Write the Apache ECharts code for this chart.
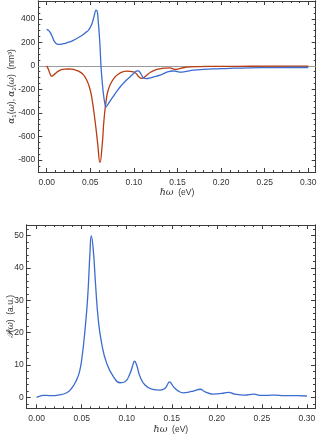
<!DOCTYPE html>
<html><head><meta charset="utf-8">
<script src="https://cdn.jsdelivr.net/npm/echarts@6/dist/echarts.min.js"></script>
<style>html,body{margin:0;padding:0;background:#fff}#c{width:318px;height:436px}</style>
</head><body><div id="c"></div>
<script>
// ---- Top panel data: alpha1 (blue) and alpha2 (red), nm^3 vs hbar*omega (eV)
var a1X = [0, 0.003, 0.006, 0.009, 0.012, 0.015, 0.019, 0.023, 0.030, 0.038, 0.044, 0.048, 0.052, 0.055, 0.0565, 0.058, 0.059, 0.060, 0.061, 0.0623, 0.0635, 0.065, 0.0665, 0.068, 0.070, 0.073, 0.076, 0.081, 0.086, 0.091, 0.0955, 0.100, 0.103, 0.105, 0.107, 0.109, 0.111, 0.114, 0.1175, 0.122, 0.13, 0.1395, 0.144, 0.147, 0.150, 0.153, 0.16, 0.168, 0.18, 0.195, 0.21, 0.233, 0.26, 0.28, 0.30];
var a1Y = [310, 295, 255, 205, 185, 182, 188, 196, 215, 247, 280, 304, 360, 440, 474, 460, 389, 300, 190, 0, -120, -235, -310, -349, -330, -295, -264, -210, -164, -125, -94, -62, -45, -42, -56, -80, -102, -108, -105, -95, -79, -50, -44, -45, -50, -54, -47, -37, -30, -25, -21, -17, -15, -14, -14];
var a2X = [0, 0.002, 0.004, 0.0057, 0.008, 0.011, 0.0134, 0.017, 0.021, 0.025, 0.029, 0.034, 0.038, 0.042, 0.046, 0.049, 0.0516, 0.0554, 0.0585, 0.0611, 0.0638, 0.0657, 0.0688, 0.0715, 0.0745, 0.078, 0.082, 0.087, 0.0917, 0.0994, 0.103, 0.105, 0.109, 0.1115, 0.1147, 0.119, 0.124, 0.13, 0.136, 0.141, 0.145, 0.147, 0.150, 0.153, 0.158, 0.164, 0.175, 0.195, 0.22, 0.25, 0.28, 0.30];
var a2Y = [0, -30, -70, -88, -78, -58, -45, -33, -28, -27, -28, -38, -51, -75, -122, -180, -264, -462, -660, -822, -660, -462, -264, -185, -136, -98, -71, -52, -45, -51, -68, -88, -107, -100, -79, -55, -37, -25, -19, -17, -25, -31, -28, -22, -14, -8, -6, -5, -4, -3, -3, -2];
// ---- Bottom panel data: P(omega) (a.u.)
var pX = [0, 0.003, 0.007, 0.011, 0.016, 0.024, 0.0333, 0.0389, 0.0444, 0.0475, 0.05, 0.0537, 0.0567, 0.0592, 0.0607, 0.0629, 0.0656, 0.0685, 0.0722, 0.0778, 0.0852, 0.0926, 0.0981, 0.1037, 0.1074, 0.1085, 0.111, 0.1148, 0.1203, 0.1278, 0.137, 0.1426, 0.1463, 0.1474, 0.1518, 0.157, 0.163, 0.169, 0.174, 0.1815, 0.187, 0.196, 0.2055, 0.213, 0.22, 0.231, 0.2407, 0.248, 0.257, 0.265, 0.274, 0.282, 0.29, 0.30];
var pY = [0, 0.3, 0.6, 0.6, 0.5, 0.7, 1.4, 2.8, 5.4, 7.8, 11.5, 20.8, 31, 44.6, 50, 45.6, 34.2, 23.9, 16.7, 10.5, 6.4, 4.5, 4.8, 7.4, 10.5, 11.2, 10, 6.4, 3.8, 2.5, 2.2, 2.8, 4.5, 4.8, 3.3, 2.0, 1.4, 1.6, 1.95, 2.5, 1.7, 1.0, 1.2, 1.55, 1.0, 0.7, 1.0, 0.6, 0.6, 0.7, 0.5, 0.5, 0.5, 0.4];
// ---- Tick labels
var xTicks = [0, 0.05, 0.10, 0.15, 0.20, 0.25, 0.30];
var xMinorTicks = [0.01,0.02,0.03,0.04,0.06,0.07,0.08,0.09,0.11,0.12,0.13,0.14,0.16,0.17,0.18,0.19,0.21,0.22,0.23,0.24,0.26,0.27,0.28,0.29];
var yTopTicks = [-800, -600, -400, -200, 0, 200, 400];
var yTopMinor = [-850,-750,-700,-650,-550,-500,-450,-350,-300,-250,-150,-100,-50,50,100,150,250,300,350,450,500,550];
var yBotTicks = [0, 10, 20, 30, 40, 50];
var yBotMinor = [-2,2,4,6,8,12,14,16,18,22,24,26,28,32,34,36,38,42,44,46,48,52];

function zip(xs, ys){ return xs.map(function(x,i){return [x, ys[i]];}); }

var FRAME = '#3c3c3c', LBL = '#333', FONT = 'Liberation Sans, Arial, sans-serif', FS = 8.5;
var BLUE = '#3b6ccf', RED = '#b83c12';
var richX = {i: {fontFamily: 'DejaVu Serif', fontStyle: 'italic', fontSize: 9.5, color: LBL}};
var richY = {i: {fontFamily: 'DejaVu Serif', fontStyle: 'italic', fontSize: 9, color: LBL},
             s: {fontSize: 6, color: LBL, fontFamily: FONT, verticalAlign: 'bottom', padding:[5,0,0,0]}};

var grids = [], xAxes = [], yAxes = [];
function axis(g, pos, min, max, vals, len, labelOpts, nameOpts) {
  var a = {
    gridIndex: g, type: 'value', min: min, max: max, position: pos,
    axisLine: {show: true, onZero: false, lineStyle: {color: FRAME, width: 1}},
    axisTick: {show: true, inside: true, length: len, customValues: vals, lineStyle: {color: FRAME}},
    axisLabel: labelOpts ? Object.assign({show: true, customValues: vals, color: LBL, fontSize: FS, fontFamily: FONT}, labelOpts) : {show: false},
    splitLine: {show: false}
  };
  if (nameOpts) Object.assign(a, nameOpts);
  return a;
}
function panel(rect, xr, yr, xMaj, xMin, yMaj, yMin, xName, yName, yGap, yRich) {
  var base = grids.length;
  for (var k = 0; k < 4; k++) grids.push(Object.assign({containLabel: false, outerBoundsMode: 'none'}, rect));
  var xNameOpts = {name: xName, nameLocation: 'middle', nameGap: 16, nameMoveOverlap: false,
                   nameTextStyle: {color: LBL, fontSize: FS, fontFamily: FONT, rich: richX}};
  var yNameOpts = {name: yName, nameLocation: 'middle', nameGap: yGap, nameMoveOverlap: false,
                   nameTextStyle: {color: LBL, fontSize: FS, fontFamily: FONT, rich: yRich}};
  xAxes.push(axis(base, 'bottom', xr[0], xr[1], xMaj, 4, {margin: 6, formatter: function(v){return v.toFixed(2);}}, xNameOpts));
  yAxes.push(axis(base, 'left', yr[0], yr[1], yMaj, 4, {margin: 3, formatter: function(v){return String(v);}}, yNameOpts));
  xAxes.push(axis(base+1, 'bottom', xr[0], xr[1], xMin, 2));
  yAxes.push(axis(base+1, 'left', yr[0], yr[1], yMin, 2));
  xAxes.push(axis(base+2, 'top', xr[0], xr[1], xMaj, 4));
  yAxes.push(axis(base+2, 'right', yr[0], yr[1], yMaj, 4));
  xAxes.push(axis(base+3, 'top', xr[0], xr[1], xMin, 2));
  yAxes.push(axis(base+3, 'right', yr[0], yr[1], yMin, 2));
}
panel({left: 38.3, right: 2.3, top: 1, height: 171}, [-0.0096, 0.3085], [-902, 551],
      xTicks, xMinorTicks, yTopTicks, yTopMinor,
      '{i|ℏω}  (eV)', '{i|α}{s|1}({i|ω}), {i|α}{s|2}({i|ω})  (nm³)', 21, richY);
panel({left: 26.7, right: 3, top: 225, height: 183.3}, [-0.011, 0.309], [-3.4, 53.3],
      xTicks, xMinorTicks, yBotTicks, yBotMinor,
      '{i|ℏω}  (eV)', '{i|𝒫}({i|ω})  (a.u.)', 11.5, richY);

var SM = 0.5;
var chart = echarts.init(document.getElementById('c'), null, {renderer: 'canvas'});
chart.setOption({
  animation: false,
  backgroundColor: '#fff',
  grid: grids,
  xAxis: xAxes,
  yAxis: yAxes,
  series: [
    {type: 'line', xAxisIndex: 0, yAxisIndex: 0, data: zip(a2X, a2Y), showSymbol: false, smooth: SM,
     lineStyle: {color: RED, width: 1.3}, itemStyle: {color: RED}, z: 3,
     markLine: {silent: true, symbol: 'none', label: {show: false}, lineStyle: {color: '#9a9a9a', type: 'solid', width: 1},
                data: [{yAxis: 0}], z: 1}},
    {type: 'line', xAxisIndex: 0, yAxisIndex: 0, data: zip(a1X, a1Y), showSymbol: false, smooth: SM,
     lineStyle: {color: BLUE, width: 1.3}, itemStyle: {color: BLUE}, z: 4},
    {type: 'line', xAxisIndex: 4, yAxisIndex: 4, data: zip(pX, pY), showSymbol: false, smooth: SM,
     lineStyle: {color: BLUE, width: 1.3}, itemStyle: {color: BLUE}}
  ]
});
</script></body></html>
